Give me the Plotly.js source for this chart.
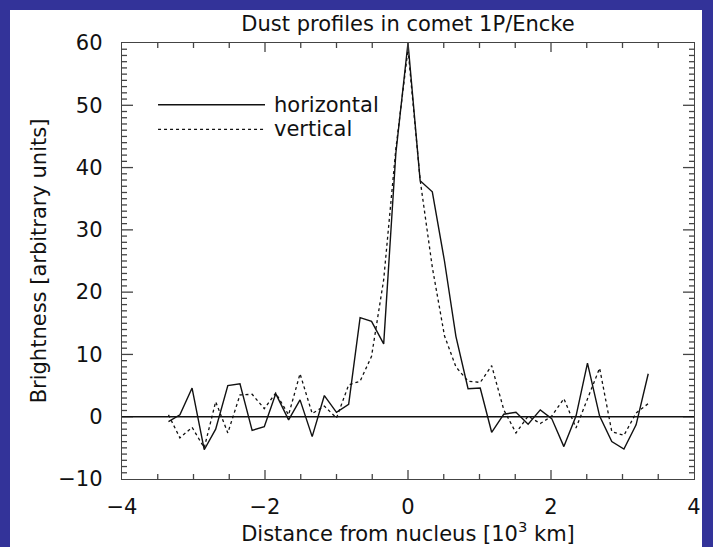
<!DOCTYPE html>
<html><head><meta charset="utf-8">
<script src="https://cdn.plot.ly/plotly-3.0.1.min.js"></script>
<style>
html,body{margin:0;padding:0;background:#333399;width:713px;height:547px;overflow:hidden;}
#chart{position:absolute;left:10px;top:10px;width:692px;height:537px;background:#fff;}
</style></head>
<body><div id="chart"></div>
<script>
// Distance from nucleus [10^3 km]
const distance = [-3.35,-3.19,-3.02,-2.85,-2.69,-2.52,-2.35,-2.18,-2.01,-1.85,-1.67,-1.51,-1.34,-1.17,-1.00,-0.83,-0.67,-0.51,-0.34,-0.17,0.00,0.17,0.34,0.51,0.67,0.84,1.01,1.17,1.34,1.51,1.68,1.85,2.01,2.18,2.35,2.51,2.68,2.85,3.02,3.19,3.36];
// Brightness, horizontal profile
const horizontal = [-0.8,0.3,4.6,-5.3,-2.0,5.0,5.3,-2.2,-1.6,3.7,-0.5,2.7,-3.2,3.4,0.7,2.0,15.9,15.3,11.7,42.3,60.0,37.9,36.1,25.0,12.9,4.5,4.6,-2.5,0.4,0.7,-1.2,1.1,-0.3,-4.8,0.1,8.6,0.1,-4.0,-5.2,-1.3,6.9];
// Brightness, vertical profile
const vertical = [0.3,-3.4,-1.7,-5.0,2.4,-2.6,3.5,3.6,1.3,3.8,0.3,6.9,0.5,1.7,-0.2,5.1,5.7,9.7,22.0,43.0,59.0,38.0,24.0,13.0,8.0,5.7,5.5,8.2,1.1,-2.6,0.1,-1.1,0.1,2.9,-1.8,3.0,7.8,-2.4,-3.0,0.6,2.1];
const seriesNames = ['horizontal','vertical'];
const xTicks = [-4,-2,0,2,4];
const yTicks = [-10,0,10,20,30,40,50,60];
const xMinorStep = 0.5;
const yMinorStep = 1;

const FONT = 'DejaVu Sans, sans-serif';
const INK = '#111';
const AX = '#444';

const xRange = [xTicks[0], xTicks[xTicks.length-1]];
const yRange = [yTicks[0], yTicks[yTicks.length-1]];

const traces = [
  {x: distance, y: horizontal, name: seriesNames[0], mode:'lines', line:{color:INK, width:1.4}, showlegend:false},
  {x: distance, y: vertical, name: seriesNames[1], mode:'lines', line:{color:INK, width:1.3, dash:'3px,3px'}, showlegend:false}
];

// tick marks on all four sides (inward), built from the axis tick settings
const tickShapes = [];
function addXTick(v, len) {
  [[0, 1], [1, -1]].forEach(([anchor, dir]) => {
    tickShapes.push({type:'line', xref:'x', yref:'paper', ysizemode:'pixel', yanchor:anchor,
      x0:v, x1:v, y0:0, y1:dir*len, line:{color:AX, width:1.3}});
  });
}
function addYTick(v, len) {
  [[0, 1], [1, -1]].forEach(([anchor, dir]) => {
    tickShapes.push({type:'line', yref:'y', xref:'paper', xsizemode:'pixel', xanchor:anchor,
      y0:v, y1:v, x0:0, x1:dir*len, line:{color:AX, width:1.3}});
  });
}
const nxMinor = Math.round((xRange[1]-xRange[0])/xMinorStep);
for (let i = 1; i < nxMinor; i++) {
  const v = xRange[0] + i*xMinorStep;
  addXTick(v, xTicks.includes(v) ? 9 : 5);
}
const nyMinor = Math.round((yRange[1]-yRange[0])/yMinorStep);
for (let i = 1; i < nyMinor; i++) {
  const v = yRange[0] + i*yMinorStep;
  addYTick(v, yTicks.includes(v) ? 11 : 5);
}

const axisCommon = {
  showgrid:false, showline:true, linecolor:AX, linewidth:1.3, mirror:true,
  ticks:'', tickfont:{family:FONT, size:21, color:INK},
  zeroline:false
};

const layout = {
  width:692, height:537,
  margin:{l:112, r:8, t:33, b:68},
  paper_bgcolor:'#ffffff', plot_bgcolor:'#ffffff',
  title:{text:'Dust profiles in comet 1P/Encke', font:{family:FONT, size:21, color:INK}, x:0.5, xref:'paper', xanchor:'center', y:0.974, yref:'container', yanchor:'middle'},
  xaxis: Object.assign({}, axisCommon, {
    range:xRange, tickmode:'array', tickvals:xTicks,
    ticklabelstandoff:8,
    title:{text:'Distance from nucleus [10<sup>3</sup> km]', font:{family:FONT, size:21, color:INK}, standoff:4}
  }),
  yaxis: Object.assign({}, axisCommon, {
    range:yRange, tickmode:'array', tickvals:yTicks,
    ticklabelstandoff:14,
    title:{text:'Brightness [arbitrary units]', font:{family:FONT, size:21, color:INK}, standoff:5}
  }),
  shapes: tickShapes.concat([
    {type:'line', xref:'paper', yref:'y', x0:0, x1:1, y0:0, y1:0, line:{color:INK, width:1.4}},
    {type:'line', xref:'paper', yref:'paper', x0:0.063, x1:0.25, y0:0.8585, y1:0.8585, line:{color:INK, width:1.4}},
    {type:'line', xref:'paper', yref:'paper', x0:0.063, x1:0.25, y0:0.802, y1:0.802, line:{color:INK, width:1.3, dash:'3px,3px'}}
  ]),
  annotations:[
    {xref:'paper', yref:'paper', x:0.262, y:0.8585, text:seriesNames[0], showarrow:false, xanchor:'left', yanchor:'middle', font:{family:FONT, size:21, color:INK}},
    {xref:'paper', yref:'paper', x:0.262, y:0.802, text:seriesNames[1], showarrow:false, xanchor:'left', yanchor:'middle', font:{family:FONT, size:21, color:INK}}
  ]
};

Plotly.newPlot('chart', traces, layout, {staticPlot:true, displayModeBar:false});
</script>
</body></html>
